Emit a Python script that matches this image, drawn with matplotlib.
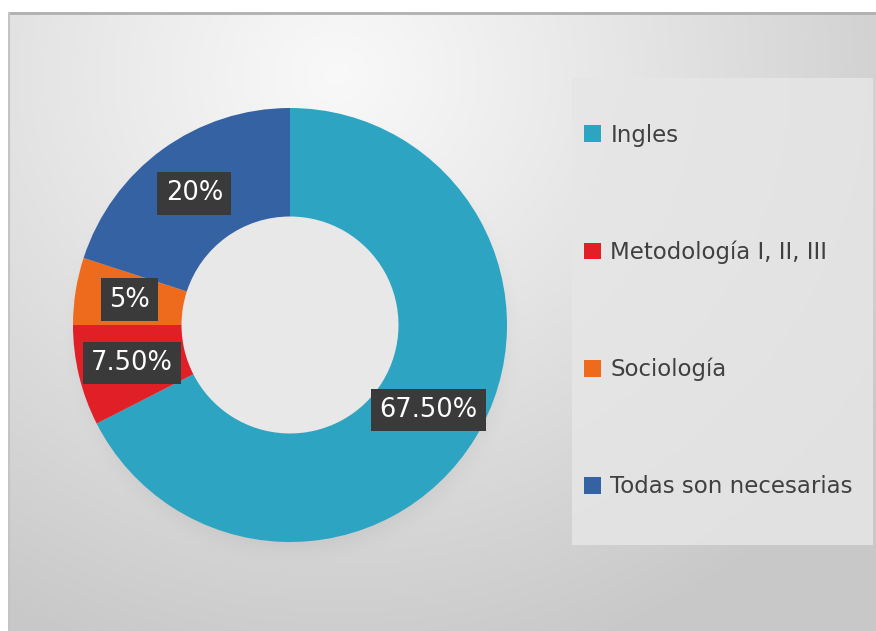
import numpy as np
import matplotlib
matplotlib.use("Agg")
import matplotlib.pyplot as plt
from matplotlib.patches import Patch, Rectangle

categories = ["Ingles", "Metodología I, II, III", "Sociología", "Todas son necesarias"]
values = [67.5, 7.5, 5, 20]
value_labels = ["67.50%", "7.50%", "5%", "20%"]
colors = ["#2DA4C2", "#E01F27", "#EE6A1C", "#3462A3"]

W, H = 876, 631
fig = plt.figure(figsize=(W / 100, H / 100), dpi=100)
fig.patch.set_facecolor("white")

# background panel with radial gradient and soft shadow
bg = fig.add_axes([8 / W, 0, 1 - 8 / W, (H - 12) / H])
bg.set_axis_off()
nx, ny = 435, 310
xx, yy = np.meshgrid(np.linspace(0, 1, nx), np.linspace(0, 1, ny))
d = np.sqrt(((xx - 0.38) * 1.3) ** 2 + ((yy - 0.10) * 1.0) ** 2)
val = 0.975 - 0.19 * np.clip(d / 1.0, 0, 1) ** 1.1
px = xx * (W - 8) + 8
py = yy * (H - 12) + 12
dd = np.sqrt((px - 292) ** 2 + (py - 336) ** 2)
sh = np.clip((232 - dd) / 40, 0, 1) ** 1.5 * (dd > 150)
val = val - 0.08 * sh
img = np.dstack([val, val, val])
bg.imshow(img, extent=[0, 1, 0, 1], aspect="auto", interpolation="bicubic")
bg.set_xlim(0, 1)
bg.set_ylim(0, 1)
bg.plot([0, 1], [0.999, 0.999], color="#b0b0b0", lw=2)
bg.plot([0.001, 0.001], [0, 1], color="#c4c4c4", lw=1.5)

# legend panel
fig.patches.append(Rectangle((572 / W, (H - 545) / H), 301 / W, 467 / H,
                             transform=fig.transFigure, facecolor="#e6e6e6",
                             edgecolor="none", alpha=0.85, zorder=1))

ax = fig.add_axes([73 / W, (H - 542) / H, 434 / W, 434 / H])
ax.add_patch(plt.Circle((0, 0), 0.5, facecolor="#e8e8e8", edgecolor="none", zorder=0))
wedges, _ = ax.pie(values, colors=colors, startangle=90, counterclock=False,
                   radius=1.0, wedgeprops=dict(width=0.5, linewidth=0))
ax.set_xlim(-1, 1)
ax.set_ylim(-1, 1)
ax.set_aspect("equal")
ax.set_axis_off()

for w, lab in zip(wedges, value_labels):
    ang = np.deg2rad((w.theta1 + w.theta2) / 2)
    r = 0.75
    ax.text(r * np.cos(ang), r * np.sin(ang), lab, ha="center", va="center",
            fontsize=18.5, color="white", family="DejaVu Sans",
            bbox=dict(boxstyle="square,pad=0.32", facecolor="#3a3a3a",
                      edgecolor="none"))

handles = [Patch(facecolor=c, edgecolor="none") for c in colors]
leg = fig.legend(handles, categories, loc="center left",
                 bbox_to_anchor=(584 / W, (H - 311) / H),
                 frameon=False, fontsize=16.5, labelspacing=4.1,
                 handlelength=0.75, handleheight=0.75, handletextpad=0.4,
                 borderaxespad=0, borderpad=0)
for t in leg.get_texts():
    t.set_color("#404040")

fig.savefig("out.png", dpi=100)
